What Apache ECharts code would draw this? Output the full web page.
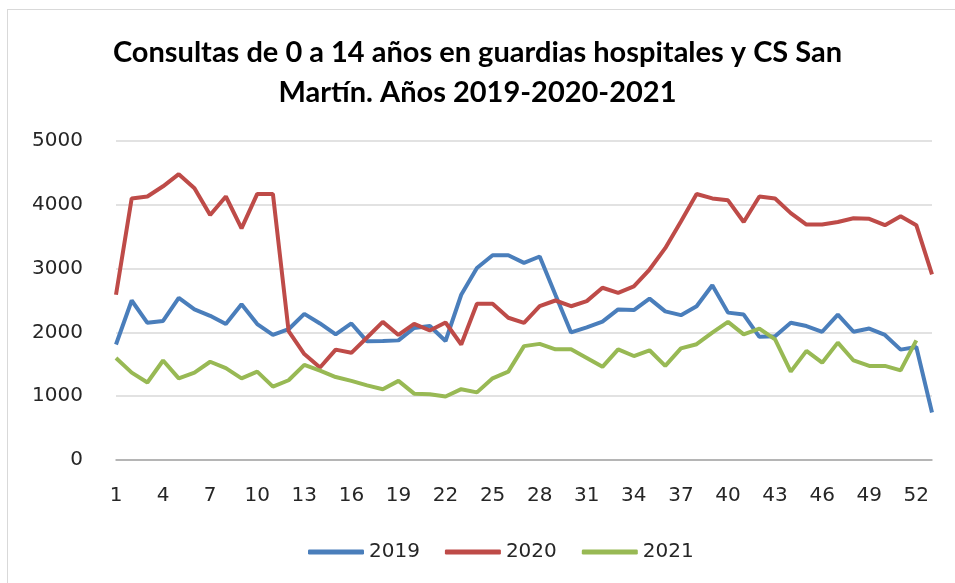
<!DOCTYPE html>
<html>
<head>
<meta charset="utf-8">
<script src="https://cdn.jsdelivr.net/npm/echarts@6/dist/echarts.min.js"></script>
<style>
  html, body { margin: 0; padding: 0; background: #fff; }
  #chart { position: absolute; left: 0; top: 0; width: 955px; height: 583px; }
  .frame { position: absolute; left: 7px; top: 9px; width: 960px; height: 590px; border: 1px solid #d9d9d9; }
</style>
</head>
<body>
<div class="frame"></div>
<div id="chart"></div>
<script>
// semanas 1..53
const weeks = [];
for (let w = 1; w <= 53; w++) weeks.push(String(w));

const y2019 = [1810, 2500, 2150, 2180, 2540, 2360, 2260, 2130, 2440, 2130, 1960, 2050, 2290, 2140, 1970, 2140, 1860,
  1865, 1875, 2070, 2100, 1865, 2590, 3010, 3210, 3210, 3090, 3190, 2590, 2000, 2080, 2170, 2360, 2350,
  2530, 2330, 2270, 2410, 2740, 2310, 2280, 1930, 1940, 2150, 2100, 2010, 2280, 2010, 2060, 1960, 1730, 1770, 745];

const y2020 = [2590, 4100, 4130, 4290, 4480, 4260, 3840, 4130, 3630, 4170, 4170, 2020, 1660, 1450, 1730, 1680, 1920,
  2165, 1960, 2135, 2030, 2155, 1810, 2450, 2450, 2230, 2150, 2410, 2500, 2410, 2490, 2700, 2620, 2720,
  2985, 3320, 3740, 4170, 4100, 4070, 3730, 4130, 4100, 3870, 3690, 3690, 3730, 3790, 3780, 3680, 3820, 3680, 2910];

const y2021 = [1600, 1370, 1215, 1560, 1280, 1370, 1540, 1440, 1280, 1385, 1150, 1250, 1490, 1400, 1300, 1240, 1170,
  1110, 1240, 1040, 1030, 995, 1110, 1060, 1280, 1385, 1785, 1820, 1735, 1735, 1600, 1460, 1735, 1630,
  1720, 1475, 1750, 1815, 1995, 2165, 1970, 2060, 1890, 1385, 1710, 1525, 1840, 1560, 1475, 1475, 1405, 1875];

const yTicks = [0, 1000, 2000, 3000, 4000, 5000];

const chart = echarts.init(document.getElementById('chart'));
const titleFont = 'Lato, "Open Sans", sans-serif';
const labelFont = '"DejaVu Sans", sans-serif';

const option = {
  animation: false,
  title: {
    text: 'Consultas de 0 a 14 años en guardias hospitales y CS San\nMartín. Años 2019-2020-2021',
    left: 'center',
    top: 28,
    textStyle: { fontFamily: titleFont, fontSize: 29, fontWeight: 'bold', color: '#000', lineHeight: 40 }
  },
  legend: {
    bottom: 16,
    left: 303,
    itemWidth: 56,
    itemHeight: 5,
    itemGap: 25,
    icon: 'roundRect',
    textStyle: { fontFamily: labelFont, fontSize: 20, color: '#262626' },
    data: ['2019', '2020', '2021']
  },
  grid: { left: 116, right: 23, top: 141, bottom: 123, containLabel: false },
  xAxis: {
    type: 'category',
    data: weeks,
    boundaryGap: false,
    axisLine: { lineStyle: { color: '#a6a6a6', width: 1.5 } },
    axisTick: { show: false },
    axisLabel: { interval: 2, margin: 26, fontFamily: labelFont, fontSize: 20, color: '#262626' },
    splitLine: { show: false }
  },
  yAxis: {
    type: 'value',
    min: yTicks[0],
    max: yTicks[yTicks.length - 1],
    interval: 1000,
    axisLine: { show: false },
    axisTick: { show: false },
    axisLabel: { margin: 33, fontFamily: labelFont, fontSize: 20, color: '#262626', formatter: v => String(v) },
    splitLine: { lineStyle: { color: '#d9d9d9', width: 1.5 } }
  },
  series: [
    { name: '2019', type: 'line', data: y2019, symbol: 'none', lineStyle: { width: 4, color: '#4a7ebb' }, itemStyle: { color: '#4a7ebb' } },
    { name: '2020', type: 'line', data: y2020, symbol: 'none', lineStyle: { width: 4, color: '#be4b48' }, itemStyle: { color: '#be4b48' } },
    { name: '2021', type: 'line', data: y2021, symbol: 'none', lineStyle: { width: 4, color: '#98b954' }, itemStyle: { color: '#98b954' } }
  ]
};

chart.setOption(option);
</script>
</body>
</html>
